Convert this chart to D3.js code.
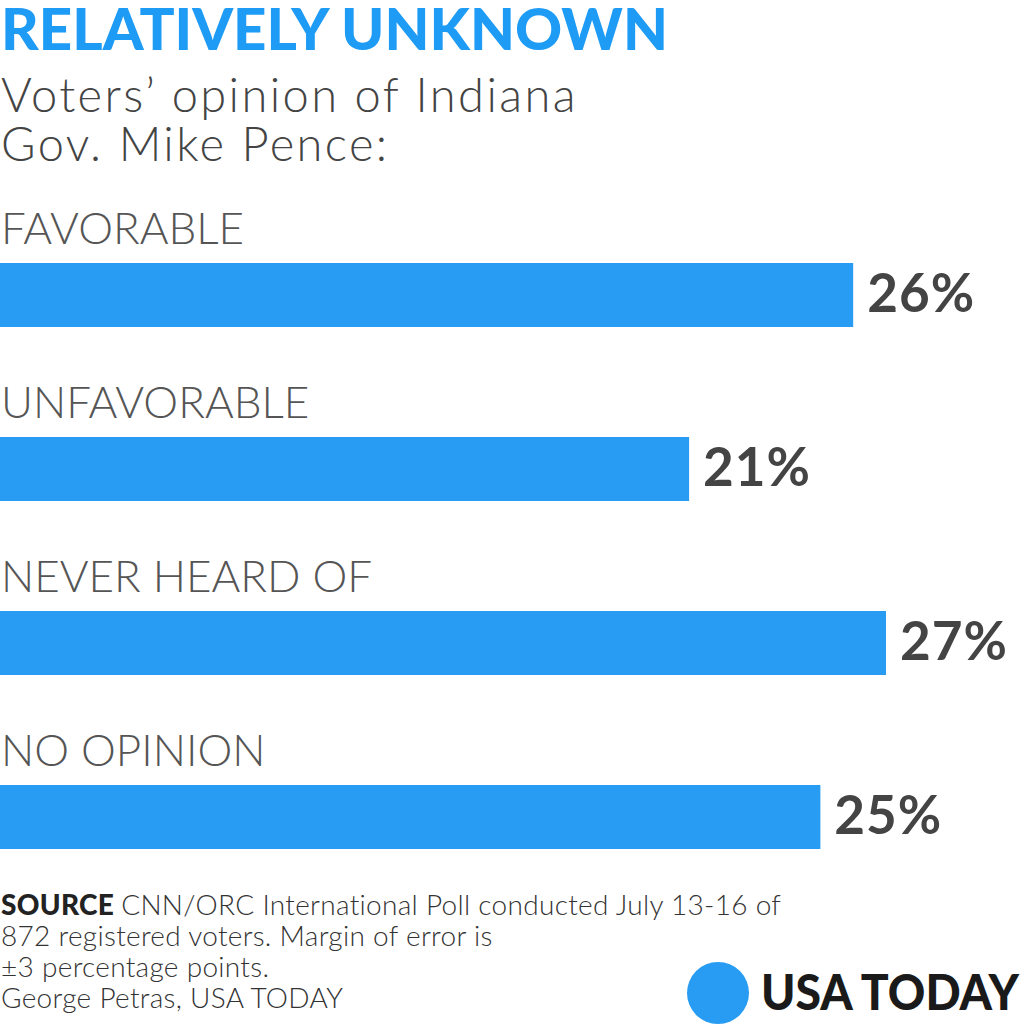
<!DOCTYPE html>
<html><head><meta charset="utf-8">
<script src="https://cdn.jsdelivr.net/npm/d3@7"></script>
<style>body{margin:0;background:#fff}svg{display:block}</style>
</head><body>
<svg id="c" width="1024" height="1024"></svg>
<script>
const categories = ["FAVORABLE", "UNFAVORABLE", "NEVER HEARD OF", "NO OPINION"];
const values = [26, 21, 27, 25];
const valueLabels = ["26%", "21%", "27%", "25%"];
const title = "RELATIVELY UNKNOWN";
const subtitle = ["Voters\u2019 opinion of Indiana", "Gov. Mike Pence:"];
const footer = ["CNN/ORC International Poll conducted July 13-16 of", "872 registered voters. Margin of error is", "\u00b13 percentage points.", "George Petras, USA TODAY"];

const svg = d3.select("#c");
const blue = "#279cf2";

svg.append("text").attr("x", 1).attr("y", 50)
  .attr("font-family", "Lato").attr("font-weight", 900).attr("font-size", 58)
  .attr("fill", "#1e9bf5").attr("textLength", 667).attr("lengthAdjust", "spacingAndGlyphs")
  .text(title);

svg.selectAll("text.sub").data(subtitle).join("text").attr("class", "sub")
  .attr("x", 1).attr("y", (d, i) => 112 + i * 49)
  .attr("font-family", "Lato").attr("font-weight", 300).attr("font-size", 47)
  .attr("letter-spacing", 2.4)
  .attr("fill", "#444").text(d => d);

const x = d3.scaleLinear().domain([0, 27]).range([0, 886]);
const y = d3.scaleBand().domain(categories).range([194, 890]).paddingInner(0).paddingOuter(0);

const g = svg.selectAll("g.row").data(categories).join("g").attr("class", "row")
  .attr("transform", d => `translate(0,${y(d)})`);

g.append("text").attr("x", 1).attr("y", 50)
  .attr("font-family", "Lato").attr("font-weight", 300).attr("font-size", 44)
  .attr("fill", "#555").text(d => d);

g.append("rect").attr("x", 0).attr("y", 69).attr("height", 64)
  .attr("width", (d, i) => x(values[i])).attr("fill", blue);

g.append("text").attr("x", (d, i) => x(values[i]) + 14).attr("y", 118)
  .attr("font-family", "Lato").attr("font-weight", 700).attr("font-size", 53)
  .attr("letter-spacing", 1)
  .attr("fill", "#444").text((d, i) => valueLabels[i]);

const ft = svg.selectAll("text.ft").data(footer).join("text").attr("class", "ft")
  .attr("x", 1).attr("y", (d, i) => 915 + i * 31)
  .attr("font-family", "Lato").attr("font-weight", 300).attr("font-size", 28)
  .attr("letter-spacing", 0.3)
  .attr("fill", "#333");
ft.each(function(d, i) {
  const t = d3.select(this);
  if (i === 0) {
    t.append("tspan").attr("font-weight", 900).attr("fill", "#222").text("SOURCE ");
  }
  t.append("tspan").text(d);
});

svg.append("circle").attr("cx", 718).attr("cy", 993).attr("r", 31).attr("fill", blue);
svg.append("text").attr("x", 761).attr("y", 1010)
  .attr("font-family", "Lato").attr("font-weight", 900).attr("font-size", 49)
  .attr("fill", "#1a1a1a").attr("textLength", 258).attr("lengthAdjust", "spacingAndGlyphs")
  .text("USA TODAY");
</script>
</body></html>
